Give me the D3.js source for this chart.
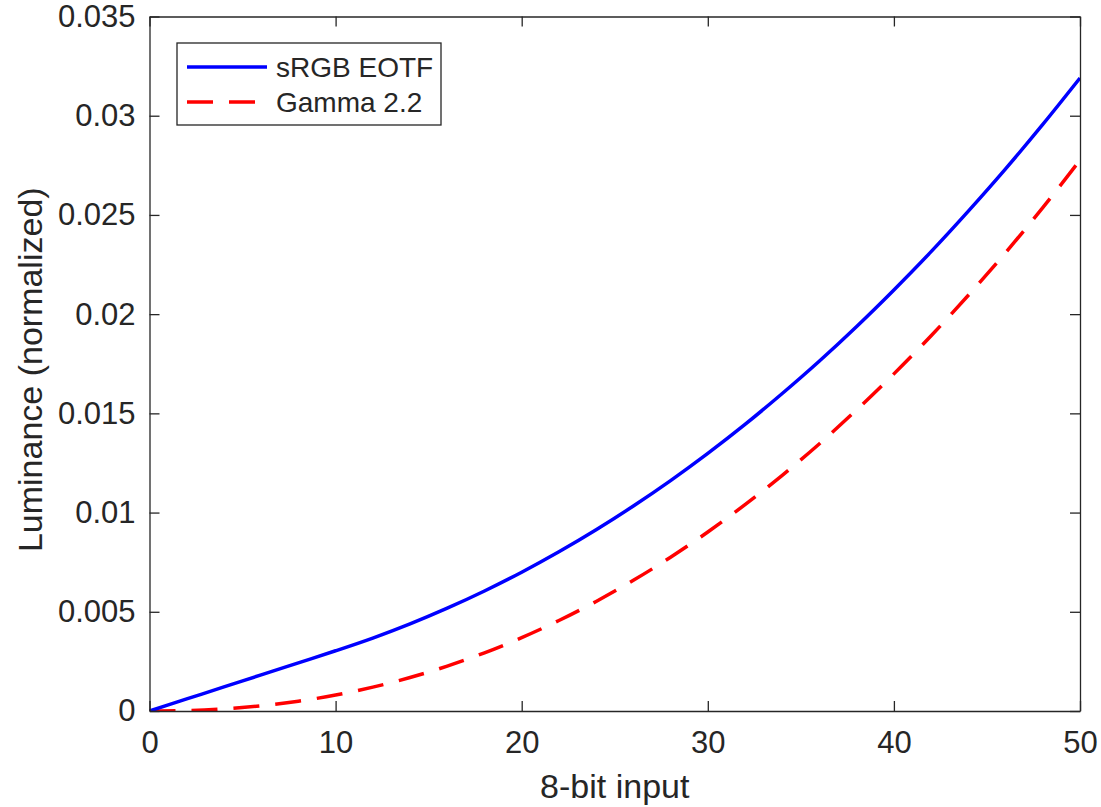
<!DOCTYPE html>
<html>
<head>
<meta charset="utf-8">
<script src="https://cdn.jsdelivr.net/npm/d3@7"></script>
<style>
  body { margin: 0; background: #fff; }
  text { font-family: "Liberation Sans", Arial, Helvetica, sans-serif; fill: #262626; }
</style>
</head>
<body>
<div id="chart-area"></div>
<script>
// 8-bit input codes (sampled every 2)
var inputs = [0, 2, 4, 6, 8, 10, 12, 14, 16, 18, 20, 22, 24, 26, 28, 30, 32, 34, 36, 38, 40, 42, 44, 46, 48, 50];

var srgb = [0, 0.000607, 0.001214, 0.001821, 0.002428, 0.003035, 0.003677, 0.004391, 0.005182, 0.006049,
    0.006995, 0.008023, 0.009134, 0.01033, 0.01161, 0.01298, 0.01444, 0.01600, 0.01764, 0.01938,
    0.02122, 0.02315, 0.02519, 0.02732, 0.02956, 0.03190];

var gamma22 = [0, 0.0000233, 0.000107, 0.000261, 0.000492, 0.000805, 0.001202, 0.001687, 0.002263, 0.002932,
    0.003697, 0.004560, 0.005522, 0.006585, 0.007751, 0.009022, 0.01040, 0.01188, 0.01347, 0.01518,
    0.01699, 0.01891, 0.02095, 0.02310, 0.02537, 0.02776];

var xTicks = [0, 10, 20, 30, 40, 50];
var yTicks = [0, 0.005, 0.01, 0.015, 0.02, 0.025, 0.03, 0.035];
var yTickLabels = ["0", "0.005", "0.01", "0.015", "0.02", "0.025", "0.03", "0.035"];

var seriesNames = ["sRGB EOTF", "Gamma 2.2"];

var margin = {top: 16.5, right: 21, bottom: 96, left: 149.5};
var totalW = 1101, totalH = 807;
var width = totalW - margin.left - margin.right;
var height = totalH - margin.top - margin.bottom;

var svg = d3.select("#chart-area")
    .append("svg")
        .attr("width", totalW)
        .attr("height", totalH);

var g = svg.append("g")
    .attr("transform", "translate(" + margin.left + ", " + margin.top + ")");

var x = d3.scaleLinear().domain([0, 50]).range([0, width]);
var y = d3.scaleLinear().domain([0, 0.035]).range([height, 0]);

var axisColor = "#262626";
var tickLen = 10;

// clip for the curves
g.append("clipPath").attr("id", "clip")
    .append("rect").attr("width", width).attr("height", height);

var lineSrgb = d3.line()
    .x((d, i) => x(inputs[i]))
    .y((d) => y(d))
    .curve(d3.curveMonotoneX);

g.append("path")
    .datum(gamma22)
    .attr("clip-path", "url(#clip)")
    .attr("fill", "none")
    .attr("stroke", "#ff0000")
    .attr("stroke-width", 3.5)
    .attr("stroke-dasharray", "26,16")
    .attr("d", lineSrgb);

g.append("path")
    .datum(srgb)
    .attr("clip-path", "url(#clip)")
    .attr("fill", "none")
    .attr("stroke", "#0000ff")
    .attr("stroke-width", 3.5)
    .attr("d", lineSrgb);

// axes (MATLAB-like box with inward ticks)
var xAxisCall = d3.axisBottom(x).tickValues(xTicks).tickSizeInner(-tickLen).tickSizeOuter(0).tickPadding(20);
var yAxisCall = d3.axisLeft(y).tickValues(yTicks).tickSizeInner(-tickLen).tickSizeOuter(0).tickPadding(14)
    .tickFormat((d, i) => yTickLabels[i]);
var xTopCall = d3.axisTop(x).tickValues(xTicks).tickSizeInner(-tickLen).tickSizeOuter(0).tickFormat("");
var yRightCall = d3.axisRight(y).tickValues(yTicks).tickSizeInner(-tickLen).tickSizeOuter(0).tickFormat("");

var xAxisGroup = g.append("g")
    .attr("transform", "translate(0, " + height + ")")
    .call(xAxisCall);
var yAxisGroup = g.append("g").call(yAxisCall);
var xTopGroup = g.append("g").call(xTopCall);
var yRightGroup = g.append("g").attr("transform", "translate(" + width + ", 0)").call(yRightCall);

[xAxisGroup, yAxisGroup, xTopGroup, yRightGroup].forEach((a) => {
    a.select(".domain").attr("stroke", axisColor).attr("stroke-width", 1.3);
    a.selectAll(".tick line").attr("stroke", axisColor).attr("stroke-width", 1.3);
    a.selectAll(".tick text")
        .attr("font-family", "'Liberation Sans', Arial, Helvetica, sans-serif")
        .attr("font-size", "31px")
        .attr("fill", axisColor);
});
xAxisGroup.selectAll(".tick text").attr("dy", "0.71em");

// axis labels
g.append("text")
    .attr("x", width / 2)
    .attr("y", height + 87)
    .attr("font-size", "34px")
    .attr("text-anchor", "middle")
    .text("8-bit input");

g.append("text")
    .attr("transform", "rotate(-90)")
    .attr("x", -(height / 2) - 6)
    .attr("y", 42 - margin.left)
    .attr("font-size", "34px")
    .attr("text-anchor", "middle")
    .text("Luminance (normalized)");

// legend
var legend = svg.append("g").attr("transform", "translate(177, 43)");
legend.append("rect")
    .attr("width", 264)
    .attr("height", 82)
    .attr("fill", "#fff")
    .attr("stroke", axisColor)
    .attr("stroke-width", 1.3);

var legendStyles = [
    {color: "#0000ff", dash: null},
    {color: "#ff0000", dash: "26,16"}
];

seriesNames.forEach((name, i) => {
    var yy = 24 + i * 35;
    legend.append("line")
        .attr("x1", 10).attr("x2", 90)
        .attr("y1", yy).attr("y2", yy)
        .attr("stroke", legendStyles[i].color)
        .attr("stroke-width", 3.5)
        .attr("stroke-dasharray", legendStyles[i].dash);
    legend.append("text")
        .attr("x", 99)
        .attr("y", yy + 10)
        .attr("font-size", "28px")
        .attr("fill", "#000")
        .text(name);
});
</script>
</body>
</html>
